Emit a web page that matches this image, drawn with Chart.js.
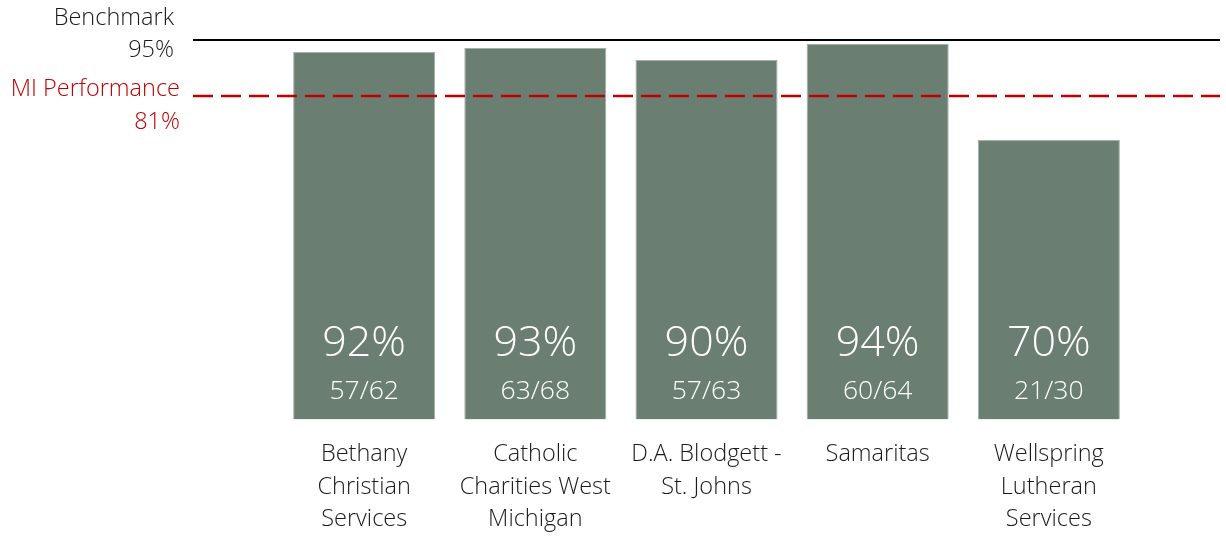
<!DOCTYPE html>
<html>
<head>
<meta charset="utf-8">
<script src="https://cdn.jsdelivr.net/npm/chart.js@4"></script>
<style>
  html, body { margin: 0; padding: 0; background: #ffffff; }
  #wrap { width: 1226px; height: 537px; position: relative; }
</style>
</head>
<body>
<div id="wrap"><canvas id="c" width="1226" height="537"></canvas></div>
<script>
const categories = [
  ['Bethany', 'Christian', 'Services'],
  ['Catholic', 'Charities West', 'Michigan'],
  ['D.A. Blodgett -', 'St. Johns'],
  ['Samaritas'],
  ['Wellspring', 'Lutheran', 'Services']
];
const percentValues = [92, 93, 90, 94, 70];
const fractionLabels = ['57/62', '63/68', '57/63', '60/64', '21/30'];
const benchmarkValue = 95;
const benchmarkLabel = 'Benchmark';
const miValue = 81;
const miLabel = 'MI Performance';

const FONT = "'Open Sans', 'Noto Sans', sans-serif";
const barColor = '#6a7f71';

const labelPlugin = {
  id: 'labelPlugin',
  afterDatasetsDraw(chart) {
    const ctx = chart.ctx;
    const y = chart.scales.y;
    const meta = chart.getDatasetMeta(0);
    const base = y.getPixelForValue(0);
    ctx.save();
    ctx.fillStyle = '#ffffff';
    ctx.textAlign = 'center';
    ctx.textBaseline = 'middle';
    meta.data.forEach((bar, i) => {
      ctx.font = '300 43px ' + FONT;
      ctx.fillText(percentValues[i] + '%', bar.x, base - 76);
      ctx.font = '300 26.5px ' + FONT;
      ctx.fillText(fractionLabels[i], bar.x, base - 28);
    });
    // reference line labels
    ctx.textAlign = 'right';
    ctx.font = '300 23.5px ' + FONT;
    ctx.fillStyle = '#1a1a1a';
    const by = y.getPixelForValue(benchmarkValue);
    ctx.fillText(benchmarkLabel, 174, by - 22);
    ctx.fillText(benchmarkValue + '%', 174, by + 10);
    ctx.fillStyle = '#c00000';
    const my = y.getPixelForValue(miValue);
    ctx.fillText(miLabel, 180, my - 7);
    ctx.fillText(miValue + '%', 180, my + 26);
    ctx.restore();
  }
};

new Chart(document.getElementById('c'), {
  type: 'bar',
  data: {
    datasets: [
      {
        type: 'bar',
        data: percentValues.map((v, i) => ({ x: i, y: v })),
        backgroundColor: barColor,
        borderColor: '#a3b0a6',
        borderWidth: 1,
        barPercentage: 0.83,
        categoryPercentage: 1,
        order: 2
      },
      {
        type: 'line',
        data: [{ x: -1, y: benchmarkValue }, { x: categories.length, y: benchmarkValue }],
        borderColor: '#000000',
        borderWidth: 2,
        pointRadius: 0,
        order: 0
      },
      {
        type: 'line',
        data: [{ x: -1, y: miValue }, { x: categories.length, y: miValue }],
        borderColor: '#c00000',
        borderWidth: 2.5,
        borderDash: [20, 8],
        pointRadius: 0,
        order: 1
      }
    ]
  },
  options: {
    responsive: false,
    animation: false,
    layout: { padding: { left: 193, right: 6, top: 20, bottom: 0 } },
    plugins: { legend: { display: false }, tooltip: { enabled: false } },
    scales: {
      x: {
        type: 'linear',
        offset: false,
        min: -1,
        max: categories.length,
        grid: { display: false, drawTicks: false, offset: false },
        border: { display: false },
        afterFit: (scale) => { scale.height = 117.5; scale.paddingLeft = 0; scale.paddingRight = 0; },
        ticks: {
          stepSize: 1,
          autoSkip: false,
          maxRotation: 0,
          padding: 18,
          color: '#1a1a1a',
          font: { family: FONT, size: 23.5, weight: '300', lineHeight: 1.4 },
          callback: (v) => (Number.isInteger(v) && v >= 0 && v < categories.length) ? categories[v] : ''
        }
      },
      y: {
        display: false,
        min: 0,
        max: 100
      }
    }
  },
  plugins: [labelPlugin]
});
</script>
</body>
</html>
